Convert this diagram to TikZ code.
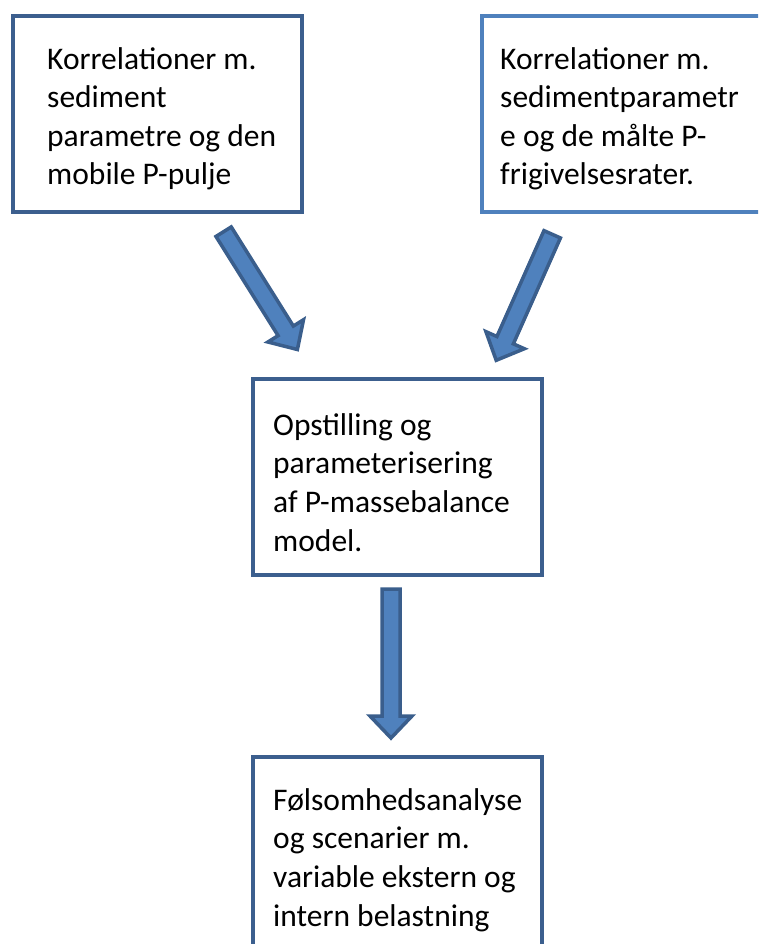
\documentclass[tikz,border=0pt]{standalone}
\usepackage{fontspec}
\setmainfont{Carlito}
\usetikzlibrary{calc}
\definecolor{boxdark}{HTML}{3C5F8E}
\definecolor{boxlight}{HTML}{4F81BD}
\definecolor{arrowfill}{HTML}{4F81BD}
\definecolor{arrowline}{HTML}{3A5E8C}
\newcommand\blockarrow[2]{%
  \coordinate (ba-n) at ($(#2)!22pt!(#1)$);
  \draw[blockarr] ($(#1)!9pt!90:(#2)$) -- ($(ba-n)!9pt!90:(#2)$) -- ($(ba-n)!21pt!90:(#2)$) -- (#2)
    -- ($(ba-n)!21pt!-90:(#2)$) -- ($(ba-n)!9pt!-90:(#2)$) -- ($(#1)!9pt!-90:(#2)$) -- cycle;}
\begin{document}
\begin{tikzpicture}[x=1pt,y=-1pt,
  box/.style={rectangle, line width=4pt, minimum width=289pt, minimum height=196pt, inner sep=0pt, anchor=north west, fill=white},
  lbl/.style={anchor=base west, inner sep=0pt, align=left, font=\fontsize{31.5}{38.6}\selectfont},
  blockarr/.style={draw=arrowline, fill=arrowfill, line width=3.5pt, line join=miter}]
\useasboundingbox (0,0) rectangle (758,944);
\clip (0,0) rectangle (758,944);
\fill[white] (0,0) rectangle (758,944);
\node[box, draw=boxdark] (b1) at (11,14) {};
\node[box, draw=boxlight] (b2) at (480,14) {};
\node[box, draw=boxdark] (b3) at (251,377) {};
\node[box, draw=boxdark] (b4) at (251,755) {};
\node[lbl] (t1) at (47,185) {Korrelationer m.\\sediment\\parametre og den\\mobile P-pulje};
\node[lbl] (t2) at (500,185) {Korrelationer m.\\sedimentparametr\\e og de målte P-\\frigivelsesrater.};
\node[lbl] (t3) at (273,551) {Opstilling og\\parameterisering\\af P-massebalance\\model.};
\node[lbl] (t4) at (273,926) {Følsomhedsanalyse\\og scenarier m.\\variable ekstern og\\intern belastning};
\coordinate (a1s) at (223.6,231.7); \coordinate (a1e) at (297.4,349.5);
\coordinate (a2s) at (552.2,234.3); \coordinate (a2e) at (496.2,360.3);
\coordinate (a3s) at (391,589); \coordinate (a3e) at (391,738);
\blockarrow{a1s}{a1e}
\blockarrow{a2s}{a2e}
\blockarrow{a3s}{a3e}
\end{tikzpicture}
\end{document}
